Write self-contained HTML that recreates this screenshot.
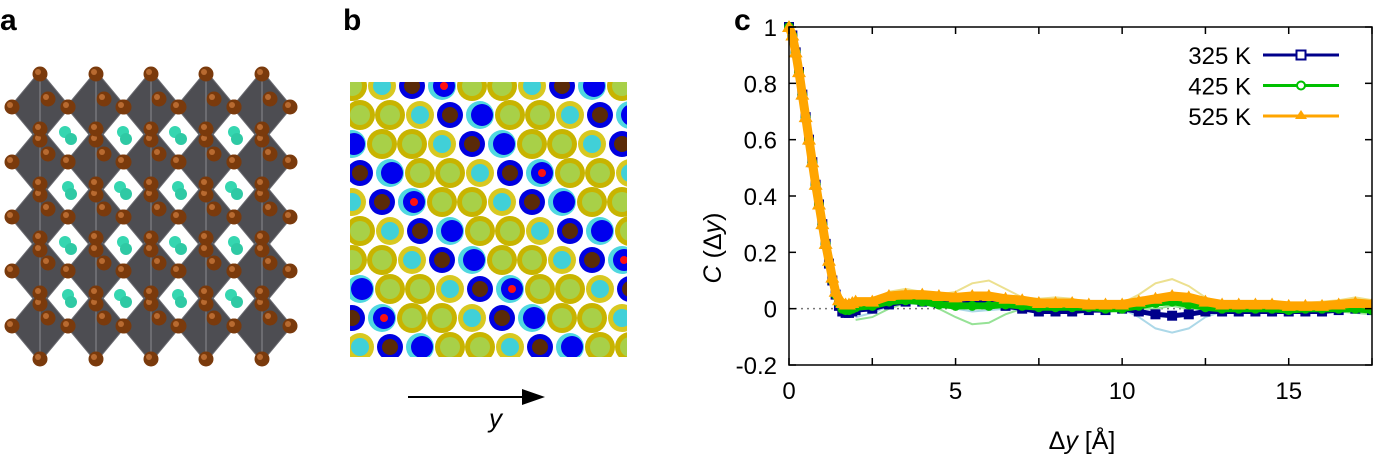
<!DOCTYPE html>
<html><head><meta charset="utf-8">
<style>
body{margin:0;background:#fff;width:1376px;height:457px;overflow:hidden;font-family:"Liberation Sans",sans-serif}
svg{position:absolute;left:0;top:0}
</style></head><body>
<svg id="fig" width="1376" height="457" viewBox="0 0 1376 457" xmlns="http://www.w3.org/2000/svg" font-family="Liberation Sans, sans-serif">
<text x="0" y="30" font-size="30" font-weight="bold">a</text>
<text x="343" y="30" font-size="30" font-weight="bold">b</text>
<text x="734" y="30" font-size="30" font-weight="bold">c</text>
<g id="pa"></g>
<g id="pb"></g>
<g>
<line x1="408" y1="397" x2="525" y2="397" stroke="#000" stroke-width="2"/>
<polygon points="545,397 522,389 522,405" fill="#000"/>
<text x="489" y="427" font-size="26" font-style="italic">y</text>
</g>
<g id="chart"></g>
</svg>
<script>
// ---- chart data ----
const decayX = [0,0.1,0.2,0.3,0.4,0.5,0.6,0.7,0.8,0.9,1.0,1.1,1.2,1.3,1.4,1.5,1.6,1.7,1.8,1.9,2.0];
const tailX = [2.5,3,3.5,4,4.5,5,5.5,6,6.5,7,7.5,8,8.5,9,9.5,10,10.5,11,11.5,12,12.5,13,13.5,14,14.5,15,15.5,16,16.5,17,17.5];
const decay325 = [1.0,0.97,0.91,0.84,0.76,0.68,0.6,0.52,0.44,0.37,0.3,0.23,0.16,0.1,0.05,0.01,-0.01,-0.015,-0.015,-0.01,-0.005];
const decay425 = [1.0,0.97,0.91,0.84,0.76,0.68,0.6,0.52,0.44,0.37,0.3,0.23,0.16,0.1,0.05,0.02,0.0,-0.005,-0.005,0.0,0.005];
const decay525 = [1.0,0.97,0.91,0.84,0.76,0.68,0.6,0.52,0.44,0.37,0.3,0.23,0.17,0.11,0.06,0.03,0.02,0.015,0.015,0.02,0.025];
const tail325 = [0.0,0.015,0.025,0.025,0.02,0.02,0.02,0.02,0.01,0.0,-0.01,-0.01,-0.01,-0.005,-0.005,0,-0.01,-0.02,-0.025,-0.02,-0.01,-0.01,-0.01,-0.01,-0.01,-0.01,-0.01,-0.01,-0.005,0,-0.005];
const tail425 = [0.01,0.025,0.03,0.025,0.015,0.01,0.01,0.01,0.015,0.01,0.005,0.005,0.005,0.005,0.0,0.0,0.01,0.02,0.025,0.015,0.005,0.0,0.0,0.0,0.0,-0.005,0,0,0,0,-0.005];
const tail525 = [0.025,0.045,0.05,0.05,0.045,0.04,0.045,0.045,0.035,0.03,0.02,0.02,0.02,0.015,0.015,0.015,0.025,0.035,0.045,0.04,0.025,0.015,0.015,0.015,0.015,0.01,0.01,0.01,0.015,0.02,0.015];
const faintX = [2,2.5,3,3.5,4,4.5,5,5.5,6,6.5,7,7.5,8,8.5,9,9.5,10,10.5,11,11.5,12,12.5,13,13.5,14,14.5,15,15.5,16,16.5,17,17.5];
const faintYellow = [0.0,0.03,0.06,0.07,0.06,0.05,0.06,0.09,0.1,0.07,0.04,0.035,0.04,0.035,0.02,0.02,0.02,0.05,0.09,0.105,0.08,0.04,0.02,0.02,0.02,0.02,0.02,0.02,0.025,0.03,0.04,0.03];
const faintGreen = [-0.04,-0.03,0.0,0.02,0.02,0.0,-0.03,-0.055,-0.05,-0.02,0.0,0.0,0.0,0.0,0.0,0.0,0.0,0.0,0.0,0.01,0.0,0.0,0.0,0.0,0.0,0.0,-0.005,-0.01,-0.01,-0.01,-0.015,-0.02];
const faintBlue = [-0.03,-0.015,0.01,0.02,0.015,0.01,0.0,-0.01,-0.005,0.0,-0.005,-0.01,-0.01,-0.01,-0.005,0.0,0.0,-0.03,-0.07,-0.085,-0.07,-0.03,-0.01,-0.01,-0.01,-0.01,-0.01,-0.01,-0.01,-0.005,0.0,-0.005];
const xTicks = [0,5,10,15];
const yTicks = [-0.2,0,0.2,0.4,0.6,0.8,1];
const yTickLabels = ["-0.2","0","0.2","0.4","0.6","0.8","1"];
const legendLabels = ["325 K","425 K","525 K"];

const NS = "http://www.w3.org/2000/svg";
function mk(tag, attrs, parent){const e=document.createElementNS(NS,tag);for(const k in attrs)e.setAttribute(k,attrs[k]);parent.appendChild(e);return e;}

const L=789,R=1372,T=27,B=365,XMAX=17.5,YMIN=-0.2,YMAX=1;
const sx=v=>L+(v/XMAX)*(R-L);
const sy=v=>B-(v-YMIN)/(YMAX-YMIN)*(B-T);
const chart=document.getElementById('chart');
const clip=mk('clipPath',{id:'pc'},chart);mk('rect',{x:L-8,y:T-8,width:R-L+8,height:B-T+8},clip);
const plot=mk('g',{'clip-path':'url(#pc)'},chart);

const zl=mk('line',{x1:sx(0),y1:sy(0),x2:sx(XMAX),y2:sy(0),stroke:'#777','stroke-width':1.5,'stroke-dasharray':'2,4'},plot);



function path(xs,ys){return xs.map((x,i)=>(i?'L':'M')+sx(x).toFixed(1)+','+sy(ys[i]).toFixed(1)).join(' ');}
const faint=[[faintYellow,'#ece08f'],[faintGreen,'#96e296'],[faintBlue,'#acd8e8']];
faint.forEach(([ys,c],i)=>{
  const p=mk('path',{d:path(faintX,ys),fill:'none',stroke:c,'stroke-width':2},plot);
  
  
});

const series=[
 {name:'325K',c:'#00008b',d:decay325,t:tail325,w:5},
 {name:'425K',c:'#00c000',d:decay425,t:tail425,w:7},
 {name:'525K',c:'#ffa500',d:decay525,t:tail525,w:9}];
series.forEach((s,si)=>{
  const xs=decayX.concat(tailX), ys=s.d.concat(s.t);
  const p=mk('path',{d:path(xs,ys),fill:'none',stroke:s.c,'stroke-width':s.w,'stroke-linejoin':'round'},plot);
  
  
  xs.forEach((x,i)=>{
    const cx=sx(x), cy=sy(ys[i]); let m;
    if(si===0) m=mk('rect',{x:cx-5,y:cy-5,width:10,height:10,fill:s.c},plot);
    else if(si===1) m=mk('circle',{cx:cx,cy:cy,r:5,fill:s.c},plot);
    else m=mk('polygon',{points:`${cx},${cy-7} ${cx-7},${cy+5} ${cx+7},${cy+5}`,fill:s.c},plot);
    
    
  });
});

// axes frame
const fr=mk('rect',{x:L,y:T,width:R-L,height:B-T,fill:'none',stroke:'#000','stroke-width':1.5},chart);


for(let v=0;v<=XMAX;v+=2.5){
  mk('line',{x1:sx(v),y1:B,x2:sx(v),y2:B-7,stroke:'#000','stroke-width':1.5},chart);
  mk('line',{x1:sx(v),y1:T,x2:sx(v),y2:T+7,stroke:'#000','stroke-width':1.5},chart);
}
xTicks.forEach(v=>{
  const t=mk('text',{x:sx(v),y:399,'font-size':24,'text-anchor':'middle'},chart);t.textContent=String(v);
  
  
});
yTicks.forEach((v,i)=>{
  mk('line',{x1:L,y1:sy(v),x2:L+7,y2:sy(v),stroke:'#000','stroke-width':1.5},chart);
  mk('line',{x1:R,y1:sy(v),x2:R-7,y2:sy(v),stroke:'#000','stroke-width':1.5},chart);
  const t=mk('text',{x:777,y:sy(v)+9,'font-size':24,'text-anchor':'end'},chart);t.textContent=yTickLabels[i];
  
  
});
const xt=mk('text',{x:1082,y:449,'font-size':25,'text-anchor':'middle'},chart);
xt.innerHTML='Δ<tspan font-style="italic">y</tspan> [Å]';


const yt=mk('text',{x:0,y:0,'font-size':25,'text-anchor':'middle',transform:'translate(721,248) rotate(-90)'},chart);
yt.innerHTML='<tspan font-style="italic">C</tspan> (Δ<tspan font-style="italic">y</tspan>)';



// legend
series.forEach((s,i)=>{
  const y=55+i*30.5;
  const g=mk('g',{},chart);
  
  
  const t=mk('text',{x:1251,y:y+9,'font-size':24,'text-anchor':'end'},g);t.textContent=legendLabels[i];
  mk('line',{x1:1263,y1:y,x2:1339,y2:y,stroke:s.c,'stroke-width':3},g);
  const cx=1301;
  if(i===0) mk('rect',{x:cx-4.5,y:y-4.5,width:9,height:9,fill:'#fff',stroke:s.c,'stroke-width':2},g);
  else if(i===1) mk('circle',{cx:cx,cy:y,r:4,fill:'#fff',stroke:s.c,'stroke-width':2},g);
  else mk('polygon',{points:`${cx},${y-6} ${cx-6},${y+3} ${cx+6},${y+3}`,fill:s.c},g);
});

// ---- panel a ----
const pa=document.getElementById('pa');
const ocx=[40,96,151,206,262], ocy=[107,162,217,271,326];
ocy.forEach(y=>ocx.forEach(x=>{
  mk('polygon',{points:`${x},${y-36} ${x+30},${y} ${x},${y+36} ${x-30},${y}`,fill:'#4d4d52',stroke:'#6a6a70','stroke-width':1},pa);
  mk('line',{x1:x,y1:y-36,x2:x,y2:y+36,stroke:'#8a8a90','stroke-width':1},pa);
}));
[68,123,178,234].forEach((x,i)=>[135,190,245,298].forEach((y,j)=>{
  mk('circle',{cx:x-3+(i+j)%2*3,cy:y-3,r:6,fill:'#35d6b0'},pa);
  mk('circle',{cx:x+3,cy:y+4,r:6,fill:'#2fc9a4'},pa);
}));
ocy.forEach(y=>ocx.forEach(x=>{
  [[0,-33],[28,0],[0,33],[-28,0],[8,-8]].forEach(([dx,dy])=>{
    mk('circle',{cx:x+dx,cy:y+dy,r:7.5,fill:'#7a3a0c'},pa);
    mk('circle',{cx:x+dx-2,cy:y+dy-2,r:3,fill:'#b86a30'},pa);
  });
}));

// ---- panel b ----
const pb=document.getElementById('pb');
const bc=mk('clipPath',{id:'bclip'},pb);mk('rect',{x:350,y:82,width:277,height:275},bc);
const bg=mk('g',{'clip-path':'url(#bclip)'},pb);
mk('rect',{x:350,y:82,width:277,height:275,fill:'#fff'},bg);
for(let r=0;r<10;r++)for(let c=0;c<10;c++){
  const x=352+c*30+(r%2)*8, y=86+r*29;
  const k=(r*3+c*7)%5;
  if(k===0||k===3){mk('circle',{cx:x,cy:y,r:15,fill:'#c8b400'},bg);mk('circle',{cx:x,cy:y,r:10,fill:'#a8d048'},bg);}
  else if(k===1){mk('circle',{cx:x,cy:y,r:14,fill:'#50d8e0'},bg);mk('circle',{cx:x+2,cy:y,r:11,fill:'#0000ee'},bg);if((r+c)%3===0)mk('circle',{cx:x+2,cy:y,r:4,fill:'#ff1010'},bg);}
  else if(k===2){mk('circle',{cx:x,cy:y,r:14,fill:'#d8c820'},bg);mk('circle',{cx:x,cy:y,r:9,fill:'#40d0d8'},bg);}
  else {mk('circle',{cx:x,cy:y,r:13,fill:'#0000e0'},bg);mk('circle',{cx:x,cy:y,r:8,fill:'#5a2a08'},bg);}
}
</script>
</body></html>
